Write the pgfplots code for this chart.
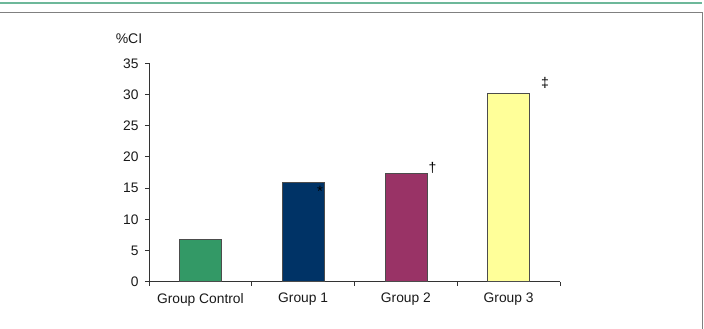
\documentclass[border=0pt]{standalone}
\usepackage{fontspec}
\setmainfont{Liberation Sans}
\usepackage{pgfplots}
\pgfplotsset{compat=1.18}
\definecolor{cgreen}{HTML}{339966}
\definecolor{cnavy}{HTML}{003366}
\definecolor{cplum}{HTML}{993366}
\definecolor{cyel}{HTML}{FFFF99}
\definecolor{cteal}{HTML}{6DB89A}
\definecolor{cframe}{HTML}{808080}
\begin{document}
\begin{tikzpicture}[x=1pt,y=1pt]
\path[use as bounding box] (0,0) rectangle (704,329);
\draw[cteal, line width=2.5pt] (0,326) -- (702,326);
\draw[cframe, line width=1pt] (0,316) -- (702,316) -- (702,0);
\begin{axis}[
  at={(149pt,47.3pt)}, anchor=south west,
  scale only axis, width=411pt, height=218.4pt,
  xmin=-0.5, xmax=3.5, ymin=0, ymax=35,
  axis x line*=bottom, axis y line*=left,
  axis line style={black!80, line width=0.8pt},
  ytick={0,5,...,35},
  xtick={-0.5,0.5,1.5,2.5,3.5},
  x tick label as interval,
  xticklabels={Group Control, Group 1, Group 2, Group 3},
  tick align=outside, major tick length=4pt,
  tick style={black!80, line width=0.8pt},
  /pgf/number format/assume math mode=true,
  tick label style={font=\fontsize{13.8}{16}\selectfont, black!90},
  yticklabel style={xshift=-3pt},
  xticklabel style={yshift=-4pt},
  ybar, bar width=42pt, bar shift=0pt,
]
\addplot[fill=cgreen, draw=black!70, line width=0.6pt] coordinates {(0,6.8)};
\addplot[fill=cnavy, draw=black!70, line width=0.6pt] coordinates {(1,15.9)};
\addplot[fill=cplum, draw=black!70, line width=0.6pt] coordinates {(2,17.4)};
\addplot[fill=cyel, draw=black!70, line width=0.6pt] coordinates {(3,30.2)};
\node[font=\fontsize{15}{16}\selectfont] at (axis cs:1.164,14.5) {*};
\node[font=\fontsize{14}{16}\selectfont] at (axis cs:2.26,18.2) {†};
\node[font=\fontsize{14}{16}\selectfont] at (axis cs:3.354,31.8) {‡};
\end{axis}
\node[font=\fontsize{14}{16}\selectfont, black!90] at (129,290.7) {\%CI};
\end{tikzpicture}
\end{document}
